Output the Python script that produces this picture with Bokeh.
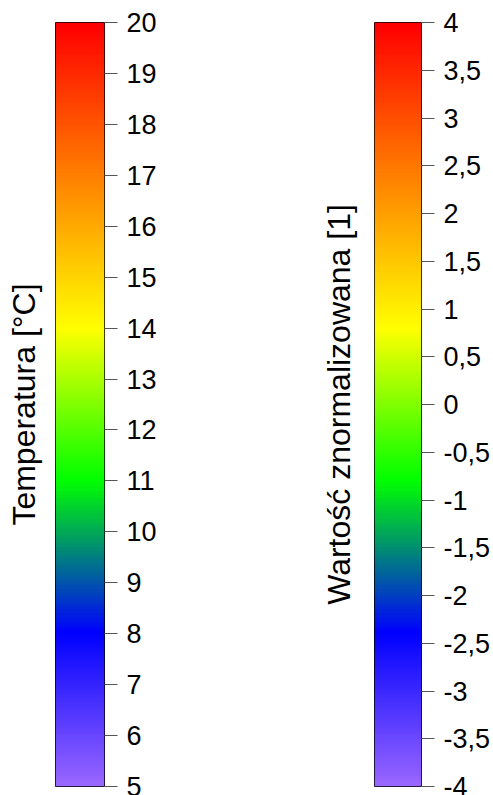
import numpy as np
from bokeh.plotting import figure
from bokeh.layouts import row
from bokeh.models import LinearColorMapper, FixedTicker, LinearAxis, Range1d
from bokeh.embed import file_html
from bokeh.resources import INLINE

# ---- data ----
stop_fracs = [0.0, 0.2, 0.4, 0.6, 1.0]          # positions of colour stops along the scale
stop_colors = ["#9966FF", "#0000FF", "#00FF00", "#FFFF00", "#FF0000"]

left_title = "Temperatura [°C]"
left_min, left_max = 5, 20
left_ticks = [5, 6, 7, 8, 9, 10, 11, 12, 13, 14, 15, 16, 17, 18, 19, 20]
left_labels = [str(t) for t in left_ticks]

right_title = "Wartość znormalizowana [1]"
right_min, right_max = -4, 4
right_ticks = [-4, -3.5, -3, -2.5, -2, -1.5, -1, -0.5, 0, 0.5, 1, 1.5, 2, 2.5, 3, 3.5, 4]
right_labels = ["-4", "-3,5", "-3", "-2,5", "-2", "-1,5", "-1", "-0,5", "0",
                "0,5", "1", "1,5", "2", "2,5", "3", "3,5", "4"]

FONT = "Liberation Sans"


def hex2rgb(h):
    h = h.lstrip("#")
    return [int(h[i:i + 2], 16) for i in (0, 2, 4)]


def build_palette(n=256):
    rgb = np.array([hex2rgb(c) for c in stop_colors], dtype=float)
    f = np.linspace(0, 1, n)
    cols = []
    for t in f:
        r = np.interp(t, stop_fracs, rgb[:, 0])
        g = np.interp(t, stop_fracs, rgb[:, 1])
        b = np.interp(t, stop_fracs, rgb[:, 2])
        cols.append("#%02x%02x%02x" % (int(round(r)), int(round(g)), int(round(b))))
    return cols


PALETTE = build_palette(256)


def make_bar(vmin, vmax, ticks, labels, title, width, border_left, border_right, title_standoff):
    p = figure(width=width, height=795, output_backend="svg", toolbar_location=None,
               x_range=Range1d(0, 1), y_range=Range1d(vmin, vmax),
               min_border_left=border_left, min_border_right=border_right,
               min_border_top=22, min_border_bottom=9,
               x_axis_location=None, y_axis_location=None)
    p.grid.visible = False
    p.outline_line_color = "black"
    p.outline_line_width = 1
    p.background_fill_color = "white"
    p.border_fill_color = "white"

    mapper = LinearColorMapper(palette=PALETTE, low=vmin, high=vmax)
    grad = np.linspace(vmin, vmax, 800).reshape(-1, 1)
    p.image(image=[grad], x=0, y=vmin, dw=1, dh=vmax - vmin, color_mapper=mapper)

    ax = LinearAxis(ticker=FixedTicker(ticks=ticks))
    ax.major_label_overrides = {t: l for t, l in zip(ticks, labels)}
    ax.axis_line_color = None
    ax.major_tick_in = 0
    ax.major_tick_out = 13
    ax.major_tick_line_color = "#555555"
    ax.minor_tick_line_color = None
    ax.major_label_standoff = 9
    ax.major_label_text_font = FONT
    ax.major_label_text_font_size = "27px"
    ax.major_label_text_color = "black"
    p.add_layout(ax, "right")

    lab = LinearAxis(ticker=FixedTicker(ticks=[]))
    lab.axis_line_color = None
    lab.major_tick_line_color = None
    lab.minor_tick_line_color = None
    lab.axis_label = title
    lab.axis_label_text_font = FONT
    lab.axis_label_text_font_size = "32px"
    lab.axis_label_text_font_style = "normal"
    lab.axis_label_text_color = "black"
    lab.axis_label_standoff = title_standoff
    p.add_layout(lab, "left")
    return p


p1 = make_bar(left_min, left_max, left_ticks, left_labels, left_title, 248, 55, 144, 14)
p2 = make_bar(right_min, right_max, right_ticks, right_labels, right_title, 245, 126, 70, 18)

layout = row(p1, p2)
open("out.html", "w").write(file_html(layout, INLINE))
